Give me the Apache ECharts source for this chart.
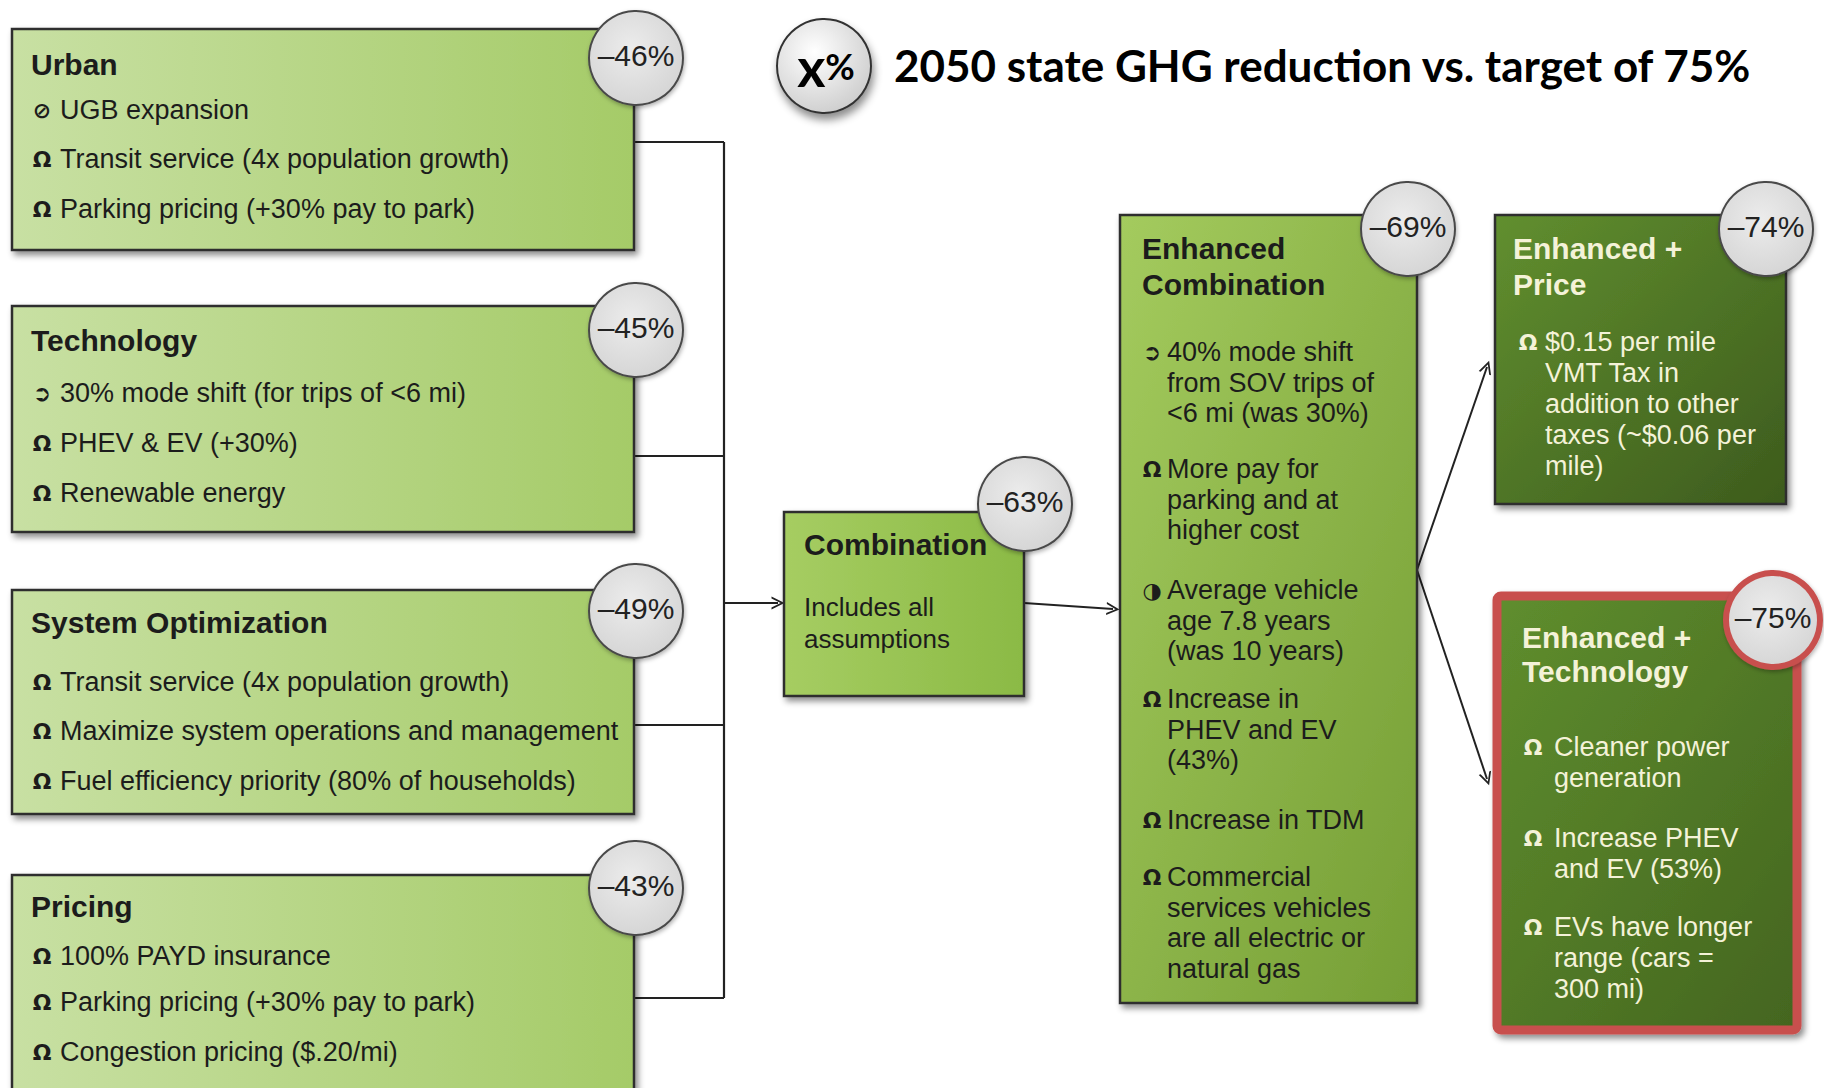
<!DOCTYPE html>
<html>
<head>
<meta charset="utf-8">
<title>2050 state GHG reduction scenarios</title>
<script src="https://cdn.jsdelivr.net/npm/echarts@6/dist/echarts.min.js"></script>
<style>
  html, body { margin: 0; padding: 0; background: #fff; }
  #main { width: 1824px; height: 1088px; }
</style>
</head>
<body>
<div id="main"></div>
<script>
// ---- content ----
const headerText = '2050 state GHG reduction vs. target of 75%';
const panelTitles = [
  ['Urban'], ['Technology'], ['System Optimization'], ['Pricing'],
  ['Combination'], ['Enhanced', 'Combination'], ['Enhanced +', 'Price'], ['Enhanced +', 'Technology']
];
const panelReductions = [-46, -45, -49, -43, -63, -69, -74, -75];
// each bullet: [icon, line1, line2, ...]
const panelBullets = [
  [['ban', 'UGB expansion'], ['arch', 'Transit service (4x population growth)'], ['arch', 'Parking pricing (+30% pay to park)']],
  [['shift', '30% mode shift (for trips of <6 mi)'], ['arch', 'PHEV & EV (+30%)'], ['arch', 'Renewable energy']],
  [['arch', 'Transit service (4x population growth)'], ['arch', 'Maximize system operations and management'], ['arch', 'Fuel efficiency priority (80% of households)']],
  [['arch', '100% PAYD insurance'], ['arch', 'Parking pricing (+30% pay to park)'], ['arch', 'Congestion pricing ($.20/mi)']],
  [[null, 'Includes all', 'assumptions']],
  [['shift', '40% mode shift', 'from SOV trips of', '<6 mi (was 30%)'],
   ['arch', 'More pay for', 'parking and at', 'higher cost'],
   ['age', 'Average vehicle', 'age 7.8 years', '(was 10 years)'],
   ['arch', 'Increase in', 'PHEV and EV', '(43%)'],
   ['arch', 'Increase in TDM'],
   ['arch', 'Commercial', 'services vehicles', 'are all electric or', 'natural gas']],
  [['arch', '$0.15 per mile', 'VMT Tax in', 'addition to other', 'taxes (~$0.06 per', 'mile)']],
  [['arch', 'Cleaner power', 'generation'], ['arch', 'Increase PHEV', 'and EV (53%)'], ['arch', 'EVs have longer', 'range (cars =', '300 mi)']]
];

// ---- layout (page units, 1824 x 1088) ----
const panelBoxes = [
  [12, 29, 634, 250], [12, 306, 634, 532], [12, 590, 634, 814], [12, 875, 634, 1110],
  [784, 512, 1024, 696], [1120, 215, 1417, 1003], [1495, 215, 1786, 504], [1497, 596, 1797, 1030]
];
const panelBadges = [[636, 58], [636, 330], [636, 611], [636, 888], [1025, 504], [1408, 229], [1766, 229], [1773, 620]];
// title x, title line ys, icon x, text x, first-line y of each bullet, line height, font size
const panelText = [
  { tx: 31, ty: [64], ix: 42, bx: 60, by: [110, 159, 209], lh: 31, fs: 27 },
  { tx: 31, ty: [340], ix: 42, bx: 60, by: [393, 443, 493], lh: 31, fs: 27 },
  { tx: 31, ty: [622], ix: 42, bx: 60, by: [682, 731, 781], lh: 31, fs: 27 },
  { tx: 31, ty: [906], ix: 42, bx: 60, by: [956, 1002, 1052], lh: 31, fs: 27 },
  { tx: 804, ty: [544], ix: 0, bx: 804, by: [607], lh: 32, fs: 26 },
  { tx: 1142, ty: [248, 284], ix: 1152, bx: 1167, by: [352, 469, 590, 699, 820, 877], lh: 30.5, fs: 27 },
  { tx: 1513, ty: [248, 284], ix: 1528, bx: 1545, by: [342], lh: 31, fs: 27 },
  { tx: 1522, ty: [637, 671], ix: 1533, bx: 1554, by: [747, 838, 927], lh: 31, fs: 27 }
];
const linkPaths = [
  [[634, 142], [724, 142]], [[634, 456], [724, 456]], [[634, 725], [724, 725]], [[634, 998], [724, 998]],
  [[724, 142], [724, 998]]
];
const arrowPaths = [
  [[724, 603], [778, 603]], [[1024, 603], [1113, 609]], [[1417, 570], [1487, 367]], [[1417, 570], [1487, 779]]
];

// ---- styles ----
const iconGlyphs = { ban: '\u2298', shift: '\u27B2', arch: '\u03A9', age: '\u25D1' };
const lightStyle = { from: '#c8e0a3', to: '#a5cb68', diag: false, stroke: '#2e2e2e', lw: 2.5, ink: '#1c1c1c' };
const panelStyle = [
  lightStyle, lightStyle, lightStyle, lightStyle,
  { from: '#a6cd62', to: '#8bba45', diag: false, stroke: '#2e2e2e', lw: 2.5, ink: '#1c1c1c' },
  { from: '#a4cb5e', to: '#759e35', diag: true, stroke: '#2e2e2e', lw: 2.5, ink: '#1c1c1c' },
  { from: '#618f2f', to: '#3d5b1d', diag: true, stroke: '#2e2e2e', lw: 2.5, ink: '#f4f2d8' },
  { from: '#5f8e2e', to: '#44651f', diag: true, stroke: '#c8504e', lw: 9, ink: '#f4f2d8' }
];
const textFont = '"Liberation Sans", Arial, sans-serif';

function renderPanel(params, api) {
  const i = params.dataIndex;
  const b = panelBoxes[i], st = panelStyle[i], t = panelText[i];
  const p0 = api.coord([b[0], b[1]]), p1 = api.coord([b[2], b[3]]);
  const children = [];
  children.push({
    type: 'rect',
    shape: { x: p0[0], y: p0[1], width: p1[0] - p0[0], height: p1[1] - p0[1], r: i === 7 ? 4 : 0 },
    style: {
      fill: new echarts.graphic.LinearGradient(0, 0, 1, st.diag ? 1 : 0, [
        { offset: 0, color: st.from }, { offset: 1, color: st.to }
      ]),
      stroke: st.stroke, lineWidth: st.lw,
      shadowBlur: 6, shadowOffsetX: 3, shadowOffsetY: 4, shadowColor: 'rgba(0,0,0,0.45)'
    }
  });
  panelTitles[i].forEach(function (line, k) {
    const p = api.coord([t.tx, t.ty[k]]);
    children.push({
      type: 'text', x: p[0], y: p[1],
      style: { text: line, fill: st.ink, fontSize: 30, fontWeight: 'bold', fontFamily: textFont, verticalAlign: 'middle', align: 'left' }
    });
  });
  panelBullets[i].forEach(function (bullet, k) {
    if (bullet[0]) {
      const q = api.coord([t.ix, t.by[k]]);
      children.push({
        type: 'text', x: q[0], y: q[1],
        style: { text: iconGlyphs[bullet[0]], fill: st.ink, fontSize: 22, fontWeight: 'bold', fontFamily: '"DejaVu Sans", sans-serif', verticalAlign: 'middle', align: 'center' }
      });
    }
    bullet.slice(1).forEach(function (line, j) {
      const p = api.coord([t.bx, t.by[k] + j * t.lh]);
      children.push({
        type: 'text', x: p[0], y: p[1],
        style: { text: line, fill: st.ink, fontSize: t.fs, fontFamily: textFont, verticalAlign: 'middle', align: 'left' }
      });
    });
  });
  const c = api.coord(panelBadges[i]);
  children.push({
    type: 'circle',
    shape: { cx: c[0], cy: c[1], r: 47 },
    style: {
      fill: new echarts.graphic.RadialGradient(0.45, 0.4, 0.7, [
        { offset: 0, color: '#ececec' }, { offset: 1, color: '#d2d2d2' }
      ]),
      stroke: i === 7 ? '#c8504e' : '#4a4a4a', lineWidth: i === 7 ? 6 : 2,
      shadowBlur: 4, shadowOffsetX: 1, shadowOffsetY: 2, shadowColor: 'rgba(0,0,0,0.3)'
    }
  });
  children.push({
    type: 'text', x: c[0], y: c[1] - 3,
    style: { text: '\u2013' + Math.abs(panelReductions[i]) + '%', fill: '#222', fontSize: 30, fontFamily: textFont, verticalAlign: 'middle', align: 'center' }
  });
  return { type: 'group', children: children };
}

const chart = echarts.init(document.getElementById('main'), null, { renderer: 'svg' });
chart.setOption({
  backgroundColor: '#ffffff',
  animation: false,
  title: {
    text: headerText, left: 889, top: 38,
    textStyle: { fontFamily: 'Lato, "Open Sans", sans-serif', fontWeight: 'bold', fontSize: 44, color: '#000' }
  },
  graphic: [
    {
      type: 'circle', shape: { cx: 824, cy: 66, r: 47 },
      style: {
        fill: new echarts.graphic.RadialGradient(0.4, 0.35, 0.75, [
          { offset: 0, color: '#ffffff' }, { offset: 1, color: '#c9c9c9' }
        ]),
        stroke: '#333', lineWidth: 2,
        shadowBlur: 8, shadowOffsetX: 2, shadowOffsetY: 6, shadowColor: 'rgba(0,0,0,0.45)'
      }
    },
    {
      type: 'text', x: 826, y: 66,
      style: {
        text: '{x|x}{p|%}', align: 'center', verticalAlign: 'middle',
        rich: {
          x: { fontSize: 54, fontWeight: 'bold', fontFamily: 'Lato, sans-serif', fill: '#000' },
          p: { fontSize: 36, fontWeight: 'bold', fontFamily: 'Lato, sans-serif', fill: '#000' }
        }
      }
    }
  ],
  grid: { left: 0, right: 0, top: 0, bottom: 0, containLabel: false },
  xAxis: { type: 'value', min: 0, max: 1824, show: false },
  yAxis: { type: 'value', min: 0, max: 1088, inverse: true, show: false },
  series: [
    {
      type: 'lines', coordinateSystem: 'cartesian2d', z: 1, silent: true,
      symbol: ['none', 'none'],
      lineStyle: { color: '#222', width: 2.2, opacity: 1, curveness: 0 },
      data: linkPaths.map(function (p) { return { coords: p }; })
    },
    {
      type: 'lines', coordinateSystem: 'cartesian2d', z: 1, silent: true,
      symbol: ['none', 'path://M5,0 L10,10 L8.5,10 L5,3 L1.5,10 L0,10 Z'],
      symbolSize: [16, 13],
      lineStyle: { color: '#222', width: 2, opacity: 1, curveness: 0 },
      data: arrowPaths.map(function (p) { return { coords: p }; })
    },
    {
      type: 'custom', coordinateSystem: 'cartesian2d', z: 2, clip: false, silent: true,
      renderItem: renderPanel,
      data: panelTitles.map(function (t, i) { return [i, 0]; })
    }
  ]
});
</script>
</body>
</html>
